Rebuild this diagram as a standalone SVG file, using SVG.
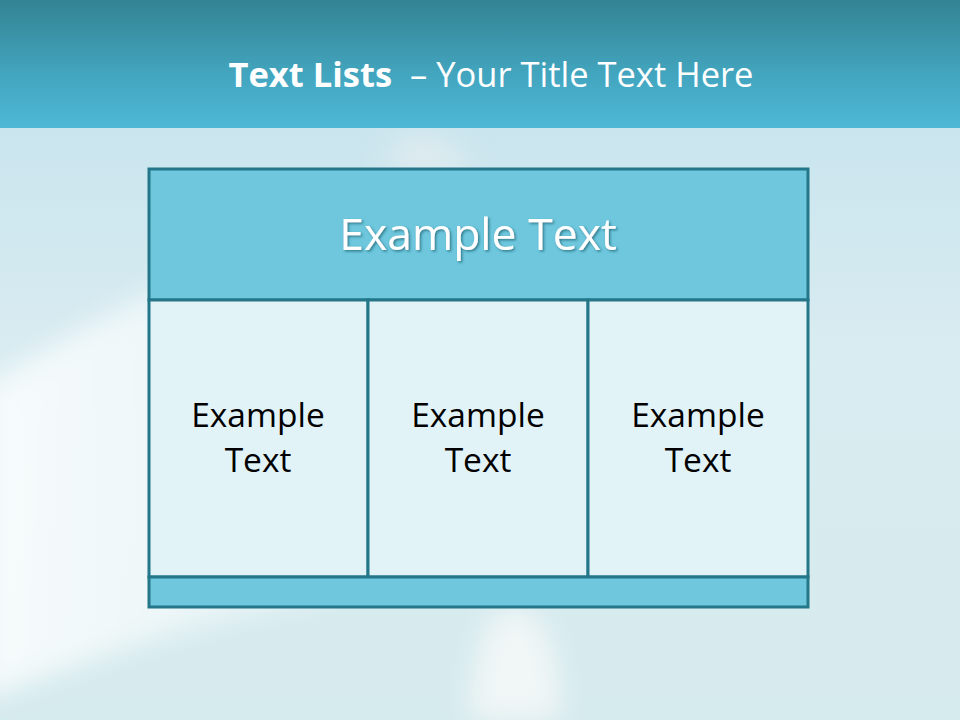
<svg xmlns="http://www.w3.org/2000/svg" width="960" height="720" viewBox="0 0 960 720">
<defs>
<linearGradient id="top" x1="0" y1="0" x2="0" y2="1">
<stop offset="0" stop-color="#338393"/>
<stop offset="0.6" stop-color="#43a6c0"/>
<stop offset="1" stop-color="#4db8d6"/>
</linearGradient>
<linearGradient id="bg" x1="0" y1="0" x2="0" y2="1">
<stop offset="0" stop-color="#a6d6e6"/>
<stop offset="0.14" stop-color="#c8e4ee"/>
<stop offset="0.5" stop-color="#d9ecf1"/>
<stop offset="1" stop-color="#d6ebee"/>
</linearGradient>
<linearGradient id="veil" x1="0" y1="0" x2="1" y2="0">
<stop offset="0" stop-color="#ffffff" stop-opacity="0.8"/>
<stop offset="1" stop-color="#ffffff" stop-opacity="0.35"/>
</linearGradient>
<filter id="sh" x="-10%" y="-10%" width="120%" height="130%">
<feDropShadow dx="1.5" dy="1.5" stdDeviation="1" flood-color="#1d5f6c" flood-opacity="0.7"/>
</filter>
<filter id="blur" x="-20%" y="-20%" width="140%" height="140%"><feGaussianBlur stdDeviation="14"/></filter>
<style>
.box{stroke:#237788;stroke-width:3}
.head{fill:#6ec7dd}
.cell{fill:#e2f3f8}
.t{font-family:"Open Sans","Noto Sans","DejaVu Sans",sans-serif;text-anchor:middle}
.ct{font-size:33.5px;fill:#000}
</style>
</defs>
<rect width="960" height="720" fill="url(#bg)"/>
<g filter="url(#blur)">
<path d="M-20 390 C60 340 150 290 240 250 L330 240 L330 600 C240 610 140 640 -20 700 Z" fill="url(#veil)"/>
<path d="M385 160 C400 125 440 125 460 155 L480 175 L400 175 Z" fill="#e6eef0" opacity="0.7"/>
<path d="M500 610 C540 600 560 640 560 720 L470 720 C470 680 480 630 500 610 Z" fill="#f4f7f7" opacity="0.9"/>
</g>
<rect width="960" height="128" fill="url(#top)"/>
<text class="t" x="491" y="87" font-size="34.5" fill="#ffffff"><tspan font-weight="bold">Text Lists</tspan><tspan xml:space="preserve">  – Your Title Text Here</tspan></text>
<g id="header">
<rect class="box head" x="149" y="169" width="659" height="131"/>
<text class="t" x="478" y="250" font-size="44.5" fill="#ffffff" filter="url(#sh)">Example Text</text>
</g>
<g id="cell1">
<rect class="box cell" x="149" y="300" width="219" height="277"/>
<text class="t ct" x="258" y="427">Example</text>
<text class="t ct" x="258" y="472">Text</text>
</g>
<g id="cell2">
<rect class="box cell" x="368" y="300" width="220" height="277"/>
<text class="t ct" x="478" y="427">Example</text>
<text class="t ct" x="478" y="472">Text</text>
</g>
<g id="cell3">
<rect class="box cell" x="588" y="300" width="220" height="277"/>
<text class="t ct" x="698" y="427">Example</text>
<text class="t ct" x="698" y="472">Text</text>
</g>
<g id="footer">
<rect class="box head" x="149" y="577" width="659" height="30"/>
</g>
<g id="connectors"/>
</svg>
